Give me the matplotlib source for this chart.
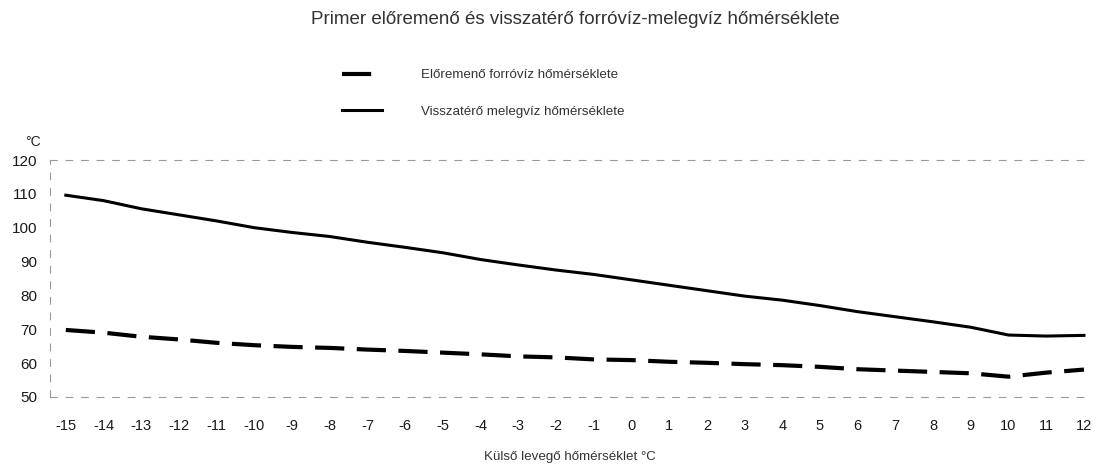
import matplotlib.pyplot as plt

plt.rcParams['font.family'] = ['Liberation Sans', 'DejaVu Sans']

kulso = list(range(-15, 13))
tick_labels = [str(v) for v in kulso]

# felső (folytonos) görbe
felso = [109.6, 108.0, 105.6, 103.8, 102.0, 100.0, 98.6, 97.4, 95.7, 94.2,
         92.6, 90.6, 89.0, 87.5, 86.2, 84.6, 83.0, 81.4, 79.8, 78.6,
         77.0, 75.2, 73.7, 72.2, 70.6, 68.3, 68.0, 68.2]
# alsó (szaggatott) görbe
also = [69.8, 69.0, 67.8, 67.0, 66.0, 65.3, 64.8, 64.5, 64.0, 63.6,
        63.1, 62.6, 62.0, 61.7, 61.1, 60.9, 60.4, 60.1, 59.7, 59.4,
        58.9, 58.2, 57.8, 57.4, 57.0, 56.0, 57.2, 58.1]

cim = 'Primer előremenő és visszatérő forróvíz-melegvíz hőmérséklete'
lbl_also = 'Előremenő forróvíz hőmérséklete'
lbl_felso = 'Visszatérő melegvíz hőmérséklete'

fig = plt.figure(figsize=(10.96, 4.66), dpi=100)
ax = fig.add_axes([50 / 1096, 1 - 397 / 466, 1040 / 1096, 237 / 466])

ax.plot(kulso, also, color='black', lw=3.0, linestyle=(0, (7, 3)),
        solid_capstyle='butt', label=lbl_also)
ax.plot(kulso, felso, color='black', lw=2.2, label=lbl_felso)

ax.set_xlim(-15.42, 12.16)
ax.set_ylim(50, 120)
ax.set_xticks(kulso)
ax.set_xticklabels(tick_labels)
ax.set_yticks(range(50, 121, 10))
ax.tick_params(length=0, colors='#1a1a1a')
ax.tick_params(axis='x', pad=16, labelsize=10.5)
ax.tick_params(axis='y', pad=9, labelsize=11)

for s in ['top', 'bottom', 'left']:
    ax.spines[s].set_linestyle((0, (6, 8)))
    ax.spines[s].set_color('#999999')
    ax.spines[s].set_linewidth(0.8)
ax.spines['right'].set_visible(False)

ax.set_xlabel('Külső levegő hőmérséklet °C', fontsize=9.6, labelpad=13,
              color='#333333')
fig.text(33 / 1096, 1 - 142 / 466, '°C', fontsize=10, ha='center',
         va='center', color='#222222')
fig.text(575 / 1096, 1 - 19 / 466, cim, fontsize=13.5, ha='center',
         va='center', color='#333333')

fig.legend(loc='upper left', bbox_to_anchor=(330 / 1096, 1 - 57 / 466),
           frameon=False, fontsize=9.6, handlelength=3.0, handletextpad=2.9,
           labelspacing=1.8, labelcolor='#333333')

fig.savefig('out.png', dpi=100)
